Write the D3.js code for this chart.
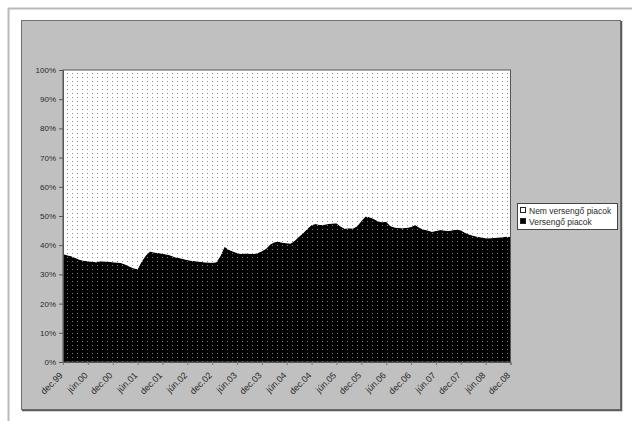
<!DOCTYPE html>
<html>
<head>
<meta charset="utf-8">
<script src="https://cdn.jsdelivr.net/npm/d3@7"></script>
<style>
  html, body { margin: 0; padding: 0; background: #ffffff; }
  svg { display: block; }
  text { font-family: "Liberation Sans", Arial, sans-serif; fill: #2a2a2a; }
</style>
</head>
<body>
<svg id="chart" width="632" height="421"></svg>
<script>
// Monthly share of competitive markets (%), Dec 1999 – Dec 2008
const versengo = [
  37.0, 36.6, 36.2, 35.6, 35.0, 34.7, 34.5, 34.3, 34.2, 34.5, 34.4, 34.3,
  34.2, 34.1, 33.9, 33.4, 32.7, 32.1, 31.8, 34.4, 36.5, 37.8, 37.5, 37.3,
  37.1, 36.8, 36.5, 35.9, 35.6, 35.3, 34.9, 34.7, 34.5, 34.3, 34.2, 34.1,
  34.0, 34.2, 36.3, 39.5, 38.4, 37.8, 37.3, 37.0, 37.2, 37.1, 37.0, 37.3,
  37.9, 38.8, 40.2, 41.0, 41.2, 40.8, 40.7, 40.6, 41.6, 43.0, 44.2, 45.6,
  46.9, 47.3, 46.9, 47.0, 47.3, 47.4, 47.5, 46.4, 45.6, 45.8, 45.7, 46.5,
  48.3, 49.8, 49.6, 49.0, 48.2, 47.9, 48.0, 46.6, 46.1, 45.9, 45.8, 46.0,
  46.2, 46.9, 46.0, 45.4, 45.0, 44.6, 44.9, 45.2, 45.0, 44.9, 45.1, 45.3,
  45.1, 44.3, 43.7, 43.2, 42.9, 42.6, 42.4, 42.4, 42.5, 42.6, 42.7, 42.9,
  42.8
];

// Series names (legend order)
const seriesNames = ["Nem versengő piacok", "Versengő piacok"];

// Hungarian month abbreviations and the years covered
const monthNames = ["jan", "feb", "márc", "ápr", "máj", "jún", "júl", "aug", "szept", "okt", "nov", "dec"];
const years = ["99", "00", "01", "02", "03", "04", "05", "06", "07", "08"];

// Tick labels shown on the category axis
const xTickLabels = [
  "dec.99", "jún.00", "dec.00", "jún.01", "dec.01", "jún.02", "dec.02",
  "jún.03", "dec.03", "jún.04", "dec.04", "jún.05", "dec.05", "jún.06",
  "dec.06", "jún.07", "dec.07", "jún.08", "dec.08"
];
const yTicks = [0, 10, 20, 30, 40, 50, 60, 70, 80, 90, 100];

// Category keys: one per month, starting at dec.99
const categories = [];
for (let y = 0; y < years.length; y++) {
  for (let m = 0; m < 12; m++) {
    if (y === 0 && m < 11) continue;
    categories.push(monthNames[m] + "." + years[y]);
  }
}
const categoriesUsed = categories.slice(0, versengo.length);

const rows = categoriesUsed.map((c, i) => ({
  cat: c,
  "Versengő piacok": versengo[i],
  "Nem versengő piacok": 100 - versengo[i]
}));

const svg = d3.select("#chart");
const defs = svg.append("defs");

// Dotted fill patterns
function dotPattern(id, bg, dot) {
  const p = defs.append("pattern")
    .attr("id", id)
    .attr("patternUnits", "userSpaceOnUse")
    .attr("width", 5).attr("height", 4);
  p.append("rect").attr("width", 5).attr("height", 4).attr("fill", bg);
  p.append("rect").attr("x", 2).attr("y", 1).attr("width", 1).attr("height", 1).attr("fill", dot);
}
dotPattern("patWhite", "#ffffff", "#8c8c8c");
dotPattern("patBlack", "#000000", "#7c7c7c");

// Outer frame
svg.append("line").attr("x1", 8).attr("y1", 8.5).attr("x2", 632).attr("y2", 8.5)
  .attr("stroke", "#b9b9b9").attr("stroke-width", 2);
svg.append("line").attr("x1", 8.5).attr("y1", 8).attr("x2", 8.5).attr("y2", 421)
  .attr("stroke", "#b9b9b9").attr("stroke-width", 2);

// Chart area
svg.append("rect")
  .attr("x", 21.5).attr("y", 20.5).attr("width", 599).attr("height", 389)
  .attr("fill", "#c0c0c0").attr("stroke", "#707070").attr("stroke-width", 1);
svg.append("path")
  .attr("d", "M621.5,21 V410.5 H22")
  .attr("fill", "none").attr("stroke", "#5a5a5a").attr("stroke-width", 1.5);

const plot = { left: 63, right: 510.5, top: 70, bottom: 362 };

const x = d3.scalePoint()
  .domain(categoriesUsed)
  .range([plot.left, plot.right]);
const y = d3.scaleLinear()
  .domain([0, 100])
  .range([plot.bottom, plot.top]);

const stack = d3.stack().keys(["Versengő piacok", "Nem versengő piacok"]);
const layers = stack(rows);

const area = d3.area()
  .x(d => x(d.data.cat))
  .y0(d => y(d[0]))
  .y1(d => y(d[1]));

const fills = { "Versengő piacok": "url(#patBlack)", "Nem versengő piacok": "url(#patWhite)" };

svg.append("g").selectAll("path")
  .data(layers)
  .join("path")
  .attr("d", area)
  .attr("fill", d => fills[d.key]);

// Plot border
svg.append("rect")
  .attr("x", plot.left).attr("y", plot.top)
  .attr("width", plot.right - plot.left).attr("height", plot.bottom - plot.top)
  .attr("fill", "none").attr("stroke", "#555").attr("stroke-width", 1);

// Y axis
const yAxis = d3.axisLeft(y)
  .tickValues(yTicks)
  .tickSize(4)
  .tickPadding(3)
  .tickFormat(d => d + "%");
const gy = svg.append("g").attr("transform", `translate(${plot.left},0)`).call(yAxis);
gy.select(".domain").attr("stroke", "#555");
gy.selectAll(".tick line").attr("stroke", "#555");
gy.selectAll("text").attr("font-size", "8px").attr("fill", "#2a2a2a");

// X axis
const xAxis = d3.axisBottom(x)
  .tickValues(xTickLabels)
  .tickSize(3)
  .tickFormat(d => d);
const gx = svg.append("g").attr("transform", `translate(0,${plot.bottom})`).call(xAxis);
gx.select(".domain").attr("stroke", "#555");
gx.selectAll(".tick line").attr("stroke", "#777");
gx.selectAll("text")
  .attr("font-size", "9px")
  .attr("fill", "#2a2a2a")
  .attr("text-anchor", "end")
  .attr("x", 0).attr("y", 0).attr("dy", "0.3em")
  .attr("transform", "translate(-2,12) rotate(-45)");

// Legend
const lg = svg.append("g").attr("transform", "translate(517,203)");
lg.append("rect").attr("x", 0.5).attr("y", 0.5).attr("width", 100).attr("height", 26)
  .attr("fill", "#ffffff").attr("stroke", "#444").attr("stroke-width", 1);
const legendFills = { "Nem versengő piacok": "#ffffff", "Versengő piacok": "#000000" };
seriesNames.forEach((name, i) => {
  const row = lg.append("g").attr("transform", `translate(3,${4 + i * 11})`);
  row.append("rect").attr("x", 0.5).attr("y", 0.5).attr("width", 5).attr("height", 5)
    .attr("fill", legendFills[name]).attr("stroke", "#222").attr("stroke-width", 1);
  row.append("text").attr("x", 9).attr("y", 6.5)
    .attr("font-size", "8.5px").text(name);
});
</script>
</body>
</html>
